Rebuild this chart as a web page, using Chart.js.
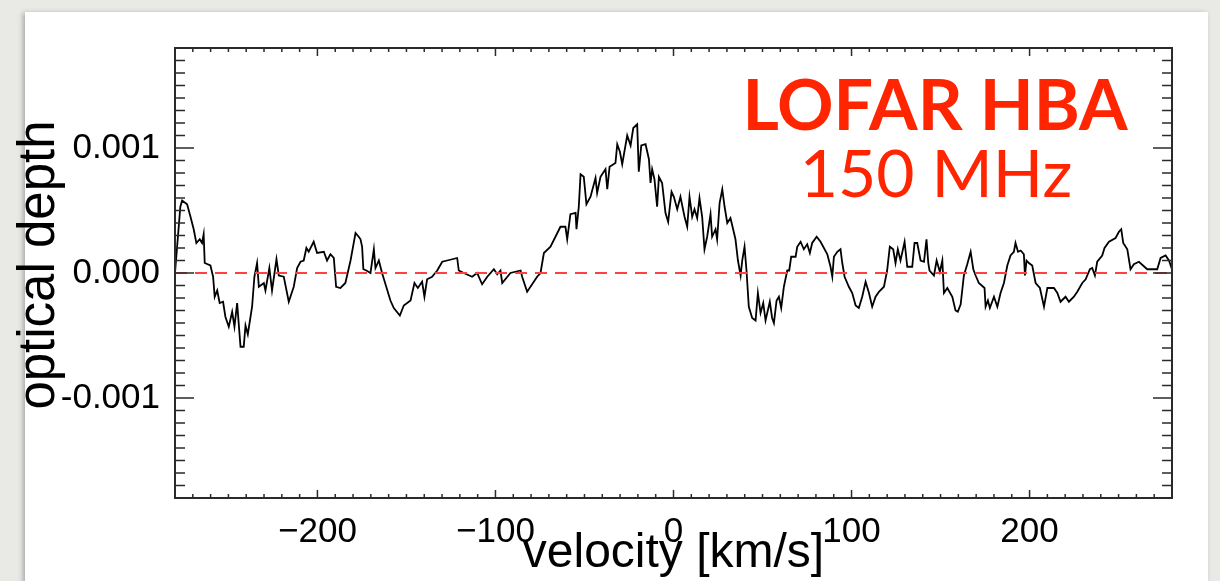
<!DOCTYPE html>
<html>
<head>
<meta charset="utf-8">
<script src="https://cdn.jsdelivr.net/npm/chart.js@4.4.0/dist/chart.umd.min.js"></script>
<style>
  html, body { margin: 0; padding: 0; }
  body { width: 1220px; height: 581px; background: #e9e9e6; overflow: hidden; position: relative; }
  #card { position: absolute; left: 25px; top: 12px; width: 1183px; height: 640px; background: #fff;
          box-shadow: -2px 1px 5px rgba(0,0,0,0.28); }
  #c { position: absolute; left: 0; top: 0; }
</style>
</head>
<body>
<div id="card"></div>
<canvas id="c" width="1220" height="581"></canvas>
<script>
// velocity [km/s] and optical depth (in units of 1e-3)
const velocity = [
  -280, -277, -276, -273.2, -271.3, -269.5, -268, -266.1, -264.8, -263.9, -263.3, -260.1, -258.6, -257.7,
  -256.3, -254.9, -253, -251.7, -249.8, -247.9, -246.6, -245.1, -243.2, -241.4, -240.4, -239.1, -236.7,
  -235.4, -233.9, -232.9, -230.1, -229.2, -227, -225.5, -223, -221.7, -218.9, -216.1, -213.3, -211.4,
  -209.5, -207.7, -206.2, -204.9, -202.1, -200.2, -196.4, -194.6, -192.7, -190.8, -189.5, -187.1, -184.3,
  -181.4, -178.6, -176.8, -175.8, -174.9, -174.2, -172.5, -170.2, -168.3, -167.4, -165.5, -163.7, -159,
  -157.1, -153.7, -151.5, -147.7, -145.5, -143.6, -141.2, -139.9, -138.4, -135.6, -132.7, -129.9, -127.1,
  -121.5, -120.6, -117.8, -113.1, -110.3, -107.5, -104.6, -100.9, -99, -97.2, -96.2, -91.6, -85.9, -85,
  -82.2, -76.6, -74.7, -72.8, -69.1, -66.3, -63.5, -60.7, -59.7, -57.9, -55, -54.5, -53.2, -52.2, -50.4,
  -48.9, -46.6, -43.8, -42.9, -41, -38.2, -37.2, -35.9, -32.6, -31.6, -30.1, -28.8, -26, -24.1, -22.6,
  -20.4, -19.5, -18.1, -15.7, -13.8, -12.9, -12, -10.7, -9.2, -8.2, -6.4, -4.5, -3, -1.1, 0.2, 2.1, 3.9,
  6.2, 7.7, 9, 10.5, 11.8, 13.3, 14.6, 16.1, 17.4, 18.9, 20.8, 21.7, 23.6, 24.5, 25.9, 27.4, 28.7, 30.2,
  32, 33.5, 34.8, 36.2, 37.7, 38.6, 39.9, 41, 42.3, 44.2, 46.1, 47.4, 48.9, 50.4, 51.7, 54.1, 55.4, 56.4,
  57.9, 59.2, 60.5, 62, 63.9, 65, 66.1, 68.6, 69.5, 71.4, 73.2, 75.1, 76.6, 77.9, 80.4, 82.6, 86.4, 88.2,
  89.2, 90.1, 92, 93.8, 94.8, 96.1, 98.5, 100.4, 102.3, 104.1, 106, 107.9, 109.8, 111.6, 113.5, 115.4,
  118.2, 120, 121.5, 123.4, 124.7, 126, 127.5, 129.8, 131.3, 134.1, 135.4, 136.9, 138.8, 140.7, 142.1,
  143.1, 143.8, 146.3, 147.8, 149.6, 151, 151.9, 153.8, 156.6, 158.4, 159.7, 161.3, 163.1, 165, 166.9,
  168.4, 169.7, 171.5, 174.7, 175.3, 176.6, 177.7, 180, 181.9, 183.7, 185.6, 187.5, 189.3, 191.2, 192.1,
  193.5, 195, 196.8, 197.4, 198.3, 199.6, 201.5, 203.4, 205.8, 208.1, 210, 213.7, 215.6, 217.4, 220.2,
  222.1, 224.9, 226.8, 229.6, 231.5, 233.9, 235.2, 236.7, 238, 240.8, 242.1, 244.6, 248.3, 250.2, 251.5,
  252.6, 254.9, 256.7, 258.6, 261.4, 266.1, 268.9, 271.7, 273.6, 276.4, 278.3, 280
];
const depthMilli = [
  0.00, 0.53, 0.58, 0.55, 0.45, 0.35, 0.24, 0.27, 0.24, 0.31, 0.08, 0.06, -0.03, -0.19,
  -0.14, -0.24, -0.23, -0.35, -0.43, -0.31, -0.43, -0.24, -0.59, -0.59, -0.42, -0.49, -0.27,
  -0.03, 0.08, -0.11, -0.08, -0.14, 0.04, -0.14, 0.11, -0.02, -0.03, -0.23, -0.11, 0.04,
  0.09, 0.10, 0.20, 0.17, 0.25, 0.16, 0.17, 0.10, 0.15, 0.12, -0.11, -0.12, -0.08,
  0.10, 0.32, 0.29, 0.27, 0.21, 0.03, 0.02, 0.00, 0.19, 0.04, 0.10, 0.00, -0.22,
  -0.28, -0.34, -0.26, -0.22, -0.08, -0.12, -0.07, -0.19, -0.05, -0.03, 0.02, 0.09, 0.10,
  0.12, 0.02, 0.00, -0.03, 0.00, -0.09, -0.03, 0.03, -0.01, 0.02, -0.08, 0.00, 0.02, -0.03,
  -0.15, -0.03, 0.00, 0.16, 0.21, 0.29, 0.37, 0.37, 0.27, 0.47, 0.48, 0.35, 0.53, 0.79, 0.77,
  0.55, 0.61, 0.76, 0.64, 0.77, 0.83, 0.67, 0.85, 0.88, 1.03, 0.97, 0.87, 1.10, 1.02, 1.16,
  1.19, 0.81, 1.02, 1.03, 0.91, 0.72, 0.83, 0.75, 0.53, 0.77, 0.72, 0.48, 0.41, 0.65, 0.61, 0.51, 0.61,
  0.45, 0.37, 0.61, 0.45, 0.51, 0.44, 0.60, 0.45, 0.19, 0.29, 0.47, 0.29, 0.35, 0.27, 0.56, 0.67, 0.53, 0.40,
  0.44, 0.35, 0.27, 0.10, -0.02, 0.10, 0.21, 0.02, -0.27, -0.36, -0.38, -0.16, -0.32, -0.24, -0.38, -0.23, -0.36, -0.40,
  -0.22, -0.19, -0.28, -0.11, 0.02, 0.02, 0.13, 0.13, 0.21, 0.25, 0.19, 0.23, 0.16, 0.24, 0.29, 0.25, 0.15, 0.05,
  -0.03, 0.13, 0.17, 0.19, 0.08, -0.03, -0.11, -0.16, -0.26, -0.28, -0.19, -0.07, -0.16, -0.27, -0.19, -0.15,
  -0.11, 0.02, 0.21, 0.19, 0.08, 0.19, 0.10, 0.25, 0.05, 0.05, 0.24, 0.24, 0.10, 0.09, 0.27,
  0.08, 0.02, -0.02, 0.10, 0.01, 0.10, -0.16, -0.12, -0.19, -0.30, -0.31, -0.25, -0.02, 0.07, 0.17,
  0.03, -0.02, -0.08, -0.12, -0.27, -0.22, -0.28, -0.19, -0.27, -0.16, -0.08, 0.06, 0.14, 0.17, 0.24,
  0.17, 0.18, 0.15, -0.02, 0.10, 0.08, 0.06, -0.08, -0.12, -0.27, -0.12, -0.12, -0.16, -0.23, -0.19,
  -0.23, -0.19, -0.15, -0.08, -0.05, 0.03, 0.04, -0.02, 0.09, 0.14, 0.20, 0.25, 0.28, 0.33, 0.35,
  0.24, 0.19, 0.03, 0.07, 0.09, 0.03, 0.03, 0.03, 0.12, 0.14, 0.10, 0.03
];
const xTicks = [-200, -100, 0, 100, 200];
const yTicks = [-0.001, 0, 0.001];
const xRange = [-280, 280];
const yRange = [-0.0018, 0.0018];
const yTitle = 'optical depth';
const labelLines = ['LOFAR HBA', '150 MHz'];

const spectrum = velocity.map((v, i) => ({ x: v, y: depthMilli[i] * 1e-3 }));

// IDL style box: frame plus inward major/minor ticks on all four sides
const frameTicks = {
  id: 'frameTicks',
  afterDatasetsDraw(chart) {
    const { ctx, chartArea: a, scales: { x, y } } = chart;
    ctx.save();
    ctx.strokeStyle = '#2a2a2a';
    ctx.lineWidth = 1.5;
    ctx.beginPath();
    for (let i = -27; i <= 27; i++) {
      const px = x.getPixelForValue(i * 10);
      const len = i % 10 === 0 ? 8 : 4;
      ctx.moveTo(px, a.bottom); ctx.lineTo(px, a.bottom - len);
      ctx.moveTo(px, a.top); ctx.lineTo(px, a.top + len);
    }
    for (let i = -17; i <= 17; i++) {
      const py = y.getPixelForValue(i * 1e-4);
      const len = i % 10 === 0 ? 19 : 10;
      ctx.moveTo(a.left, py); ctx.lineTo(a.left + len, py);
      ctx.moveTo(a.right, py); ctx.lineTo(a.right - len, py);
    }
    ctx.stroke();
    ctx.lineWidth = 2;
    ctx.strokeRect(a.left, a.top, a.right - a.left, a.bottom - a.top);
    ctx.restore();
  }
};

// red band label and the rotated y title (sits a bit above the plot centre)
const textBits = {
  id: 'textBits',
  afterDraw(chart) {
    const ctx = chart.ctx;
    ctx.save();
    ctx.fillStyle = '#ff2500';
    ctx.textAlign = 'center';
    ctx.textBaseline = 'alphabetic';
    ctx.font = 'bold 70px Lato';
    ctx.fillText(labelLines[0], 935, 130);
    ctx.font = '66px Lato';
    ctx.fillText(labelLines[1], 936, 197);

    ctx.fillStyle = '#000';
    ctx.font = '51px "Liberation Sans", Helvetica, Arial, sans-serif';
    ctx.translate(54, 265);
    ctx.rotate(-Math.PI / 2);
    ctx.fillText(yTitle, 0, 0);
    ctx.restore();
  }
};

Chart.defaults.font.family = '"Liberation Sans", Helvetica, Arial, sans-serif';
Chart.defaults.color = '#000';

new Chart(document.getElementById('c'), {
  type: 'line',
  data: {
    datasets: [
      {
        label: 'zero',
        data: [{ x: xRange[0], y: 0 }, { x: xRange[1], y: 0 }],
        borderColor: '#ff4040',
        borderWidth: 2,
        borderDash: [12, 8],
        pointRadius: 0,
        order: 0
      },
      {
        label: 'optical depth',
        data: spectrum,
        borderColor: '#000',
        borderWidth: 1.8,
        pointRadius: 0,
        tension: 0,
        order: 1
      }
    ]
  },
  options: {
    responsive: false,
    devicePixelRatio: 1,
    animation: false,
    layout: { padding: { left: 0, top: 48, right: 48, bottom: 0 } },
    plugins: { legend: { display: false }, tooltip: { enabled: false } },
    scales: {
      x: {
        type: 'linear',
        min: xRange[0],
        max: xRange[1],
        afterBuildTicks: s => { s.ticks = xTicks.map(v => ({ value: v })); },
        afterFit: s => { s.height = 83; },
        grid: { display: false, drawTicks: false },
        border: { display: false },
        ticks: {
          font: { size: 35 },
          padding: 13,
          maxRotation: 0,
          callback: v => (v < 0 ? '\u2212' + Math.abs(v) : String(v))
        },
        title: {
          display: true,
          text: 'velocity [km/s]',
          font: { size: 48, lineHeight: 1 },
          padding: { top: 0, bottom: 3 }
        }
      },
      y: {
        type: 'linear',
        min: yRange[0],
        max: yRange[1],
        afterBuildTicks: s => { s.ticks = yTicks.map(v => ({ value: v })); },
        afterFit: s => { s.width = 175; },
        grid: { display: false, drawTicks: false },
        border: { display: false },
        ticks: {
          font: { size: 35 },
          padding: 15,
          callback: v => v.toFixed(3)
        },
        title: { display: false }
      }
    }
  },
  plugins: [frameTicks, textBits]
});
</script>
</body>
</html>
